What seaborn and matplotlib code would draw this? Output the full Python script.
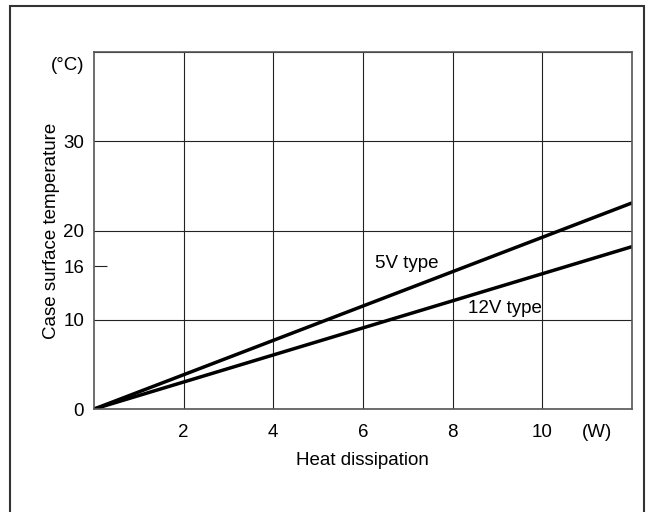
import numpy as np
import pandas as pd
import matplotlib
matplotlib.use("Agg")
import matplotlib.pyplot as plt
import seaborn as sns
from matplotlib.patches import Rectangle

# data: straight lines from the origin
power_w = [0, 12]
temp_5v = [0, 23.1]
temp_12v = [0, 18.2]

x_ticks = [2, 4, 6, 8, 10]
y_ticks = [0, 10, 20, 30]

sns.set_style("white")
plt.rcParams['font.family'] = ['Liberation Sans', 'DejaVu Sans']
plt.rcParams['text.color'] = 'black'
plt.rcParams['axes.labelcolor'] = 'black'

df = pd.DataFrame({
    "power": power_w + power_w,
    "temp": temp_5v + temp_12v,
    "type": ["5V type"] * 2 + ["12V type"] * 2,
})

fig = plt.figure(figsize=(6.48, 5.12), dpi=100)
ax = fig.add_axes([0.145, 0.201, 0.83, 0.697])

sns.lineplot(data=df, x="power", y="temp", hue="type",
             palette=["black", "black"], linewidth=2.5, legend=False, ax=ax)

ax.set_xlim(0, 12)
ax.set_ylim(0, 40)
ax.set_xticks(x_ticks)
ax.set_yticks(y_ticks + [40])
ax.set_yticklabels([str(v) for v in y_ticks] + [""])
ax.set_xticks([11.23], minor=True)
ax.set_xticklabels(["(W)"], minor=True)
ax.set_yticks([16, 38.7], minor=True)
ax.set_yticklabels(["16", "(°C)"], minor=True)

ax.grid(True, which="major", color="#222222", linewidth=0.8)
ax.tick_params(which="both", labelsize=13.5, colors="black", length=0, pad=7)
ax.tick_params(axis="x", which="both", pad=11)
ax.tick_params(axis="y", which="minor", left=True, direction="in",
               length=9.5, width=0.8, color="#222222")
# only the 16 mark gets a short inner tick
ax.yaxis.get_minor_ticks()[1].tick1line.set_visible(False)
for s in ax.spines.values():
    s.set_color("#555555")
    s.set_linewidth(1.2)

ax.set_xlabel("Heat dissipation", fontsize=13.5, labelpad=8)
ax.set_ylabel("Case surface temperature", fontsize=13.5, labelpad=-7)

ax.text(6.98, 16.3, "5V type", fontsize=13.5, ha="center", va="center")
ax.text(9.16, 11.3, "12V type", fontsize=13.5, ha="center", va="center")

fig.patches.append(Rectangle((10 / 648, -0.05), 634 / 648, 1.05 - 6 / 512,
                             transform=fig.transFigure, fill=False,
                             edgecolor="#333333", linewidth=1.5))

fig.savefig("out.png", dpi=100)
